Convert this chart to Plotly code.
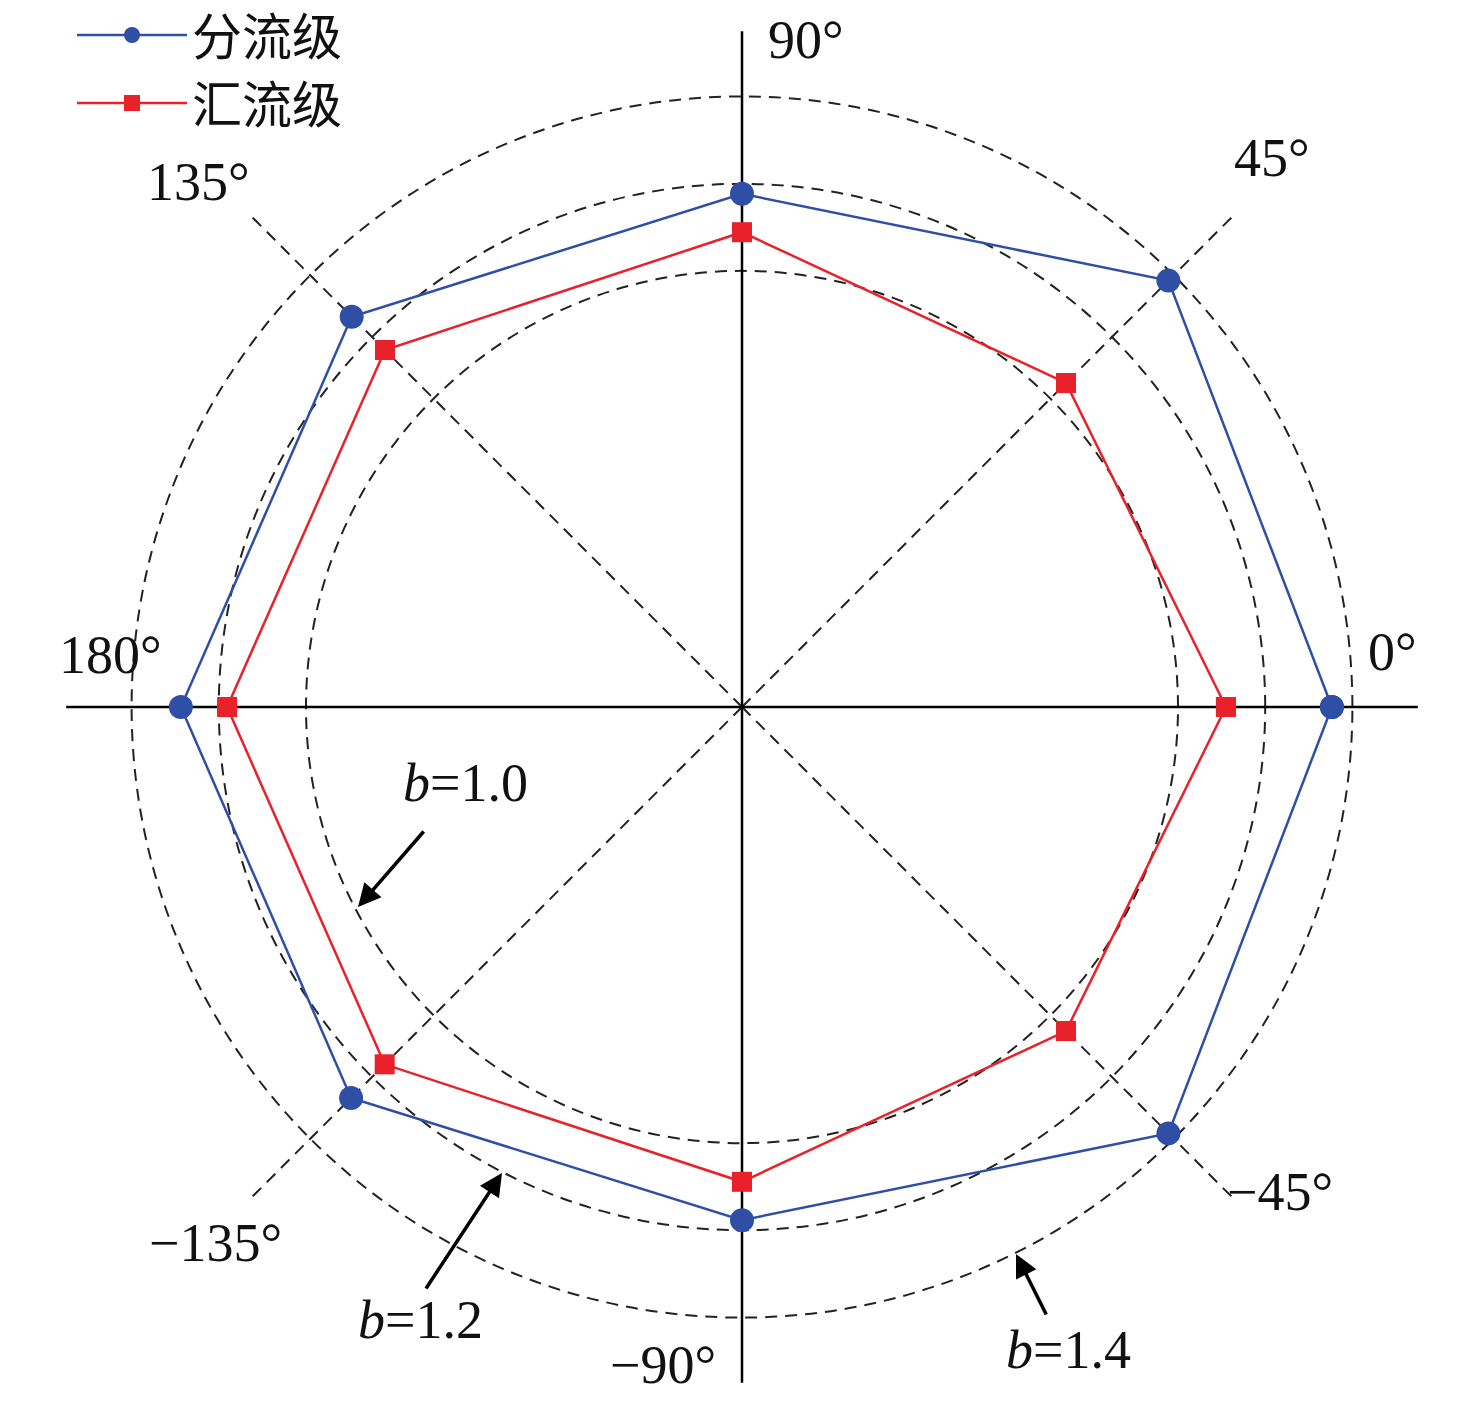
import plotly.graph_objects as go

# ---- data ----
angles = [0, 45, 90, 135, 180, -135, -90, -45]
angle_labels = ["0°", "45°", "90°", "135°", "180°", "−135°", "−90°", "−45°"]
diverging = [1.353, 1.383, 1.177, 1.266, 1.287, 1.268, 1.177, 1.383]   # 分流级
converging = [1.110, 1.051, 1.089, 1.158, 1.181, 1.159, 1.089, 1.051]  # 汇流级
b_levels = [1.0, 1.2, 1.4]
b_labels = ["<i>b</i>=1.0", "<i>b</i>=1.2", "<i>b</i>=1.4"]
series_names = ["分流级", "汇流级"]

W, H = 1476, 1401
OFF = 8  # page body margin
CX, CY, RPX = 742 - OFF, 707 - OFF, 694
UNIT = 436.0
RMAX = RPX / UNIT
AXIS_R = 1.55

BLUE = "#2f4fa7"
RED = "#e8212b"
FONT = "Liberation Serif, Noto Sans CJK SC, serif"


def px(x, y):
    return (x - OFF) / W, 1 - (y - OFF) / H


fig = go.Figure()

# solid axes through the centre
fig.add_trace(go.Scatterpolar(r=[AXIS_R, 0, AXIS_R], theta=[0, 0, 180], mode="lines",
                              line=dict(color="black", width=2.5), showlegend=False, hoverinfo="skip"))
fig.add_trace(go.Scatterpolar(r=[AXIS_R, 0, AXIS_R], theta=[90, 90, 270], mode="lines",
                              line=dict(color="black", width=2.5), showlegend=False, hoverinfo="skip"))

fig.add_trace(go.Scatterpolar(
    r=diverging + diverging[:1], theta=angles + angles[:1], mode="lines+markers",
    name=series_names[0], line=dict(color=BLUE, width=2.5),
    marker=dict(symbol="circle", size=24, color=BLUE)))
fig.add_trace(go.Scatterpolar(
    r=converging + converging[:1], theta=angles + angles[:1], mode="lines+markers",
    name=series_names[1], line=dict(color=RED, width=2.5),
    marker=dict(symbol="square", size=20, color=RED)))

label_pos = {
    "0°": (1392, 652), "45°": (1272, 158), "90°": (806, 40), "135°": (198, 182),
    "180°": (110, 655), "−135°": (215, 1243), "−90°": (663, 1365), "−45°": (1280, 1192),
}
annotations = []
for lab in angle_labels:
    x, y = px(*label_pos[lab])
    annotations.append(dict(x=x, y=y, xref="paper", yref="paper", text=lab, showarrow=False,
                            xanchor="center", yanchor="middle",
                            font=dict(family=FONT, size=54, color="#111")))

b_text_pos = [(465, 783), (420, 1320), (1068, 1350)]
b_arrow = [((358, 907), (67, -77)), ((502, 1173), (-77, 117)), ((1016, 1254), (31, 62))]
for lab, tp, (head, off) in zip(b_labels, b_text_pos, b_arrow):
    x, y = px(*tp)
    annotations.append(dict(x=x, y=y, xref="paper", yref="paper", text=lab, showarrow=False,
                            xanchor="center", yanchor="middle",
                            font=dict(family=FONT, size=54, color="#111")))
    hx, hy = px(*head)
    annotations.append(dict(x=hx, y=hy, xref="paper", yref="paper", text="", showarrow=True,
                            ax=off[0], ay=off[1], arrowhead=2, arrowsize=1.3, arrowwidth=3.5,
                            arrowcolor="black"))

fig.update_layout(
    width=W, height=H,
    margin=dict(l=0, r=0, t=0, b=0, autoexpand=False),
    paper_bgcolor="white",
    polar=dict(
        domain=dict(x=[(CX - RPX) / W, (CX + RPX) / W], y=[1 - (CY + RPX) / H, 1 - (CY - RPX) / H]),
        bgcolor="white",
        radialaxis=dict(range=[0, RMAX], tickvals=b_levels, showticklabels=False, ticks="",
                        showline=False, gridcolor="#222", gridwidth=1.5, griddash="12px,8px",
                        layer="below traces"),
        angularaxis=dict(tickvals=[45, 135, 225, 315], showticklabels=False, ticks="",
                         showline=False, gridcolor="#222", gridwidth=1.5, griddash="12px,8px",
                         direction="counterclockwise", rotation=0, layer="below traces"),
    ),
    legend=dict(x=(72 - OFF) / W, y=1 + 12 / H, xanchor="left", yanchor="top",
                bgcolor="rgba(0,0,0,0)",
                font=dict(family=FONT, size=50, color="#111"), itemwidth=110,
                tracegroupgap=0),
    annotations=annotations,
    showlegend=True,
)

fig.write_html("out.html")
